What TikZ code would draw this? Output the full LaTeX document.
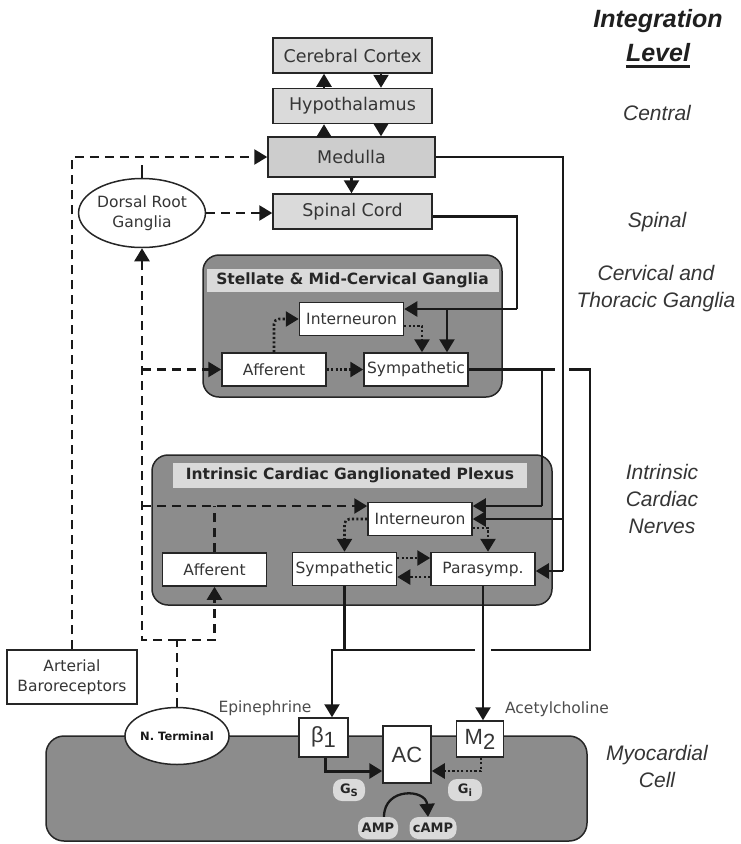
\documentclass[tikz,border=0pt]{standalone}
\usepackage{fontspec}
\setmainfont{DejaVu Sans}
\newfontfamily\arialf{Liberation Sans}
\usetikzlibrary{arrows.meta,shapes.geometric,calc}
\definecolor{txt}{HTML}{353535}
\definecolor{light}{HTML}{DADADA}
\definecolor{medfill}{HTML}{CDCDCD}
\definecolor{dark}{HTML}{8C8C8C}
\definecolor{edge}{HTML}{262626}
\begin{document}
\begin{tikzpicture}[x=1pt,y=-1pt,
  box/.style={draw=edge, line width=1.5pt, fill=white, text=txt, inner sep=0pt, font=\fontsize{15.5}{20}\selectfont},
  topbox/.style={box, fill=light, minimum width=159pt, minimum height=35pt, font=\fontsize{17.5}{20}\selectfont},
  smallbox/.style={box, minimum width=104pt, minimum height=33pt},
  group/.style={draw=edge, line width=1.5pt, rounded corners=16pt, fill=dark},
  band/.style={fill=light, inner sep=0pt, text=black!85, font=\bfseries\fontsize{15.5}{18}\selectfont},
  conn/.style={line width=2.3pt, draw=black!90},
  dashline/.style={line width=2.5pt, draw=black!90, dash pattern=on 9pt off 6pt},
  dotline/.style={line width=2.6pt, draw=black!90, dash pattern=on 2.2pt off 2.2pt},
  tip/.style={-{Triangle[length=13pt,width=15pt]}},
  level/.style={text=txt, font=\arialf\itshape\fontsize{21}{27}\selectfont, align=center, inner sep=0pt},
  blob/.style={fill=light, rounded corners=9pt, inner sep=0pt, minimum height=22pt, text=black!85, font=\bfseries\fontsize{13}{14}\selectfont},
  rec/.style={draw=edge, line width=1.5pt, fill=white, inner sep=0pt, text=txt, font=\arialf\fontsize{22}{24}\selectfont},
  note/.style={text=black!70, inner sep=0pt, font=\fontsize{15.5}{18}\selectfont},
]
\useasboundingbox (0,0) rectangle (740,844);

% ---------- group backgrounds ----------
\draw[group] (203,255) rectangle (502,397);
\draw[group] (152,455) rectangle (552,605);
\draw[group, rounded corners=18pt] (46,736) rectangle (587,841);
\node[band, minimum width=292pt, minimum height=23pt] (sband) at (352.5,280.5) {Stellate \& Mid-Cervical Ganglia};
\node[band, minimum width=354pt, minimum height=25pt] (iband) at (350,475.5) {Intrinsic Cardiac Ganglionated Plexus};

% ---------- central ----------
\node[topbox] (cortex) at (352.5,55.5) {Cerebral Cortex};
\node[topbox] (hyp) at (352.5,106) {Hypothalamus};
\node[topbox, fill=medfill, minimum width=167pt, minimum height=40pt] (med) at (351.5,157) {Medulla};
\node[topbox] (spinal) at (352.5,211.5) {Spinal Cord};
\node[box, ellipse, minimum width=118pt, minimum height=69pt, align=center] (drg) at (142,213) {Dorsal Root\\Ganglia};

% ---------- stellate ----------
\node[smallbox] (sint) at (351.5,319) {Interneuron};
\node[smallbox] (saff) at (274,369.5) {Afferent};
\node[smallbox] (ssym) at (416,369.5) {Sympathetic};

% ---------- intrinsic ----------
\node[smallbox] (iint) at (420,519) {Interneuron};
\node[smallbox] (isym) at (344.5,569) {Sympathetic};
\node[smallbox] (ipar) at (483,569) {Parasymp.};
\node[smallbox] (iaff) at (214.5,569.5) {Afferent};

\node[box, minimum width=130pt, minimum height=54pt, align=center] (art) at (72,677) {Arterial\\Baroreceptors};

% ---------- cell ----------
\node[box, ellipse, minimum width=90pt, minimum height=57pt, text=black!90, font=\bfseries\fontsize{11.5}{12}\selectfont] (nt) at (177,736) {N. Terminal};
\node[rec, minimum width=49pt, minimum height=39pt] (b1) at (323.5,737.5) {β\raisebox{-5pt}{1}};
\node[rec, minimum width=48pt, minimum height=57pt] (ac) at (407,754.5) {AC};
\node[rec, minimum width=47pt, minimum height=36pt] (m2) at (480,739) {M\raisebox{-5pt}{2}};
\node[blob, minimum width=32pt] (gs) at (349,790) {G\raisebox{-3pt}{\fontsize{10}{10}\selectfont S}};
\node[blob, minimum width=34pt] (gi) at (465,790) {G\raisebox{-3pt}{\fontsize{10}{10}\selectfont i}};
\node[blob, minimum width=40pt] (amp) at (378,828) {AMP};
\node[blob, minimum width=47pt] (camp) at (433,828) {cAMP};
\node[note] (epi) at (265,708) {Epinephrine};
\node[note] (ach) at (557,709) {Acetylcholine};

% ---------- right labels ----------
\node[level, text=black!88, font=\arialf\bfseries\itshape\fontsize{25}{32}\selectfont] (integ) at (658,21) {Integration};
\node[level, text=black!88, font=\arialf\bfseries\itshape\fontsize{25}{32}\selectfont] (lvl) at (658,53) {Level};
\draw[line width=3pt, black!88] (lvl.south west) ++(0,4) coordinate (ul) (ul) -- (ul -| lvl.south east);
\node[level] (lcen) at (657,113) {Central};
\node[level] (lspi) at (657,222) {Spinal};
\node[level] (lcer) at (656,289) {Cervical and\\Thoracic Ganglia};
\node[level] (lint) at (662,499) {Intrinsic\\Cardiac\\Nerves};
\node[level] (lmyo) at (657,766) {Myocardial\\Cell};

% ---------- central arrows ----------
\coordinate (xL) at (324,0);
\coordinate (xR) at (381,0);
\draw[conn,tip] (xL |- hyp.north) -- (xL |- cortex.south);
\draw[conn,tip] (xR |- cortex.south) -- (xR |- hyp.north);
\draw[conn,tip] (xL |- med.north) -- (xL |- hyp.south);
\draw[conn,tip] (xR |- hyp.south) -- (xR |- med.north);
\draw[conn,tip] (med.south) -- (med.south |- spinal.north);

% ---------- afferent (dashed) ----------
\draw[dashline,tip] (art.north) |- (med.west);
\draw[conn, line width=1.5pt] (drg.north) -- ++(0,-13);
\draw[dashline,tip] (drg.east) -- (drg.east -| spinal.west);
\coordinate (jb) at (177,640);
\coordinate (jl) at (142,640);
\coordinate (jr) at (214.5,640);
\coordinate (ja) at (142,506);
\draw[dashline] (nt.north) -- (jb);
\draw[dashline,tip] (jb) -- (jr) -- (iaff.south);
\draw[dashline,tip] (jb) -- (jl) -- (drg.south);
\draw[dashline,tip] (ja) -- (ja -| iint.west);
\draw[dashline] (iaff.north) -- (iaff.north |- ja);
\draw[dashline,tip] (saff.west -| jl) -- (saff.west);

% ---------- stellate internal ----------
\draw[dotline,tip,rounded corners=5pt] (saff.north) |- (sint.west);
\draw[dotline,tip] (saff.east) -- (ssym.west);
\coordinate (sd) at (422,326);
\draw[dotline,tip] (sd -| sint.east) -| (sd |- ssym.north);

% ---------- spinal to stellate ----------
\coordinate (sc) at (517,309);
\coordinate (sb) at (447,309);
\draw[conn] ($(spinal.east)+(0,5)$) -| (sc);
\draw[conn,tip] (sc) -- (sc -| sint.east);
\draw[conn,tip] (sb) -- (sb |- ssym.north);

% ---------- medulla to intrinsic ----------
\coordinate (mc) at (563,571);
\coordinate (mi) at (563,519);
\draw[conn] (med.east) -| (mc);
\draw[conn,tip] (mc) -- (mc -| ipar.east);
\draw[conn,tip] (mi) -- (mi -| iint.east);

% ---------- stellate sympathetic outflow ----------
\coordinate (s1) at (555,369.5);
\coordinate (s2) at (569,369.5);
\coordinate (s3) at (590,650);
\coordinate (s4) at (491,650);
\coordinate (s5) at (475,650);
\coordinate (s6) at (332,650);
\coordinate (sk) at (542,506);
\draw[conn] (ssym.east) -- (s1);
\draw[conn] (s2) -| (s3) -- (s4);
\draw[conn,tip] (s5) -- (s6) -- (s6 |- b1.north);
\draw[conn] (ssym.east -| sk) -- (sk);
\draw[conn,tip] (sk) -- (sk -| iint.east);
\draw[conn] (isym.south) -- (isym.south |- s6);
\draw[conn,tip] (ipar.south) -- (ipar.south |- m2.north);

% ---------- intrinsic internal ----------
\draw[dotline,tip,rounded corners=5pt] (iint.west) -| (isym.north);
\coordinate (pd) at (488,528);
\draw[dotline,tip] (pd -| iint.east) -| (pd |- ipar.north);
\draw[dotline,tip] ($(isym.east)+(0,-11)$) -- ($(ipar.west)+(0,-11)$);
\draw[dotline,tip] ($(ipar.west)+(0,8)$) -- ($(isym.east)+(0,8)$);

% ---------- cell signalling ----------
\coordinate (gsc) at (325,771);
\draw[conn, line width=3pt, tip] (gsc |- b1.south) -- (gsc) -- (gsc -| ac.west);
\coordinate (gic) at (481,771);
\draw[dotline,tip] (gic |- m2.south) -- (gic) -- (gic -| ac.east);
\draw[conn,tip] ($(amp.north)+(6,0)$) .. controls +(0,-30) and +(-2,-28) .. ($(camp.north)+(-5,0)$);
\end{tikzpicture}
\end{document}
